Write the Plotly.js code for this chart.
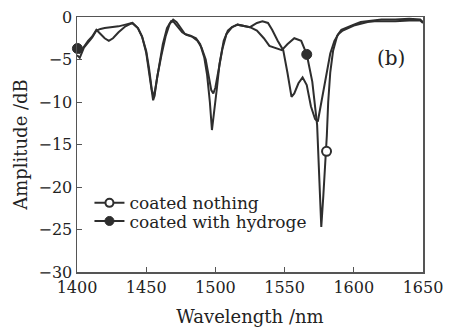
<!DOCTYPE html>
<html>
<head>
<meta charset="utf-8">
<script src="https://cdn.plot.ly/plotly-3.0.1.min.js"></script>
<style>html,body{margin:0;padding:0;background:#fff;}#chart{width:455px;height:330px;}</style>
</head>
<body>
<div id="chart"></div>
<script>
// Curve: coated nothing (deep resonance)
const wlNothing = [1400, 1402, 1405, 1408, 1411, 1414, 1417, 1420, 1425, 1430, 1435, 1440, 1444, 1447, 1450, 1452, 1454, 1455, 1456, 1458, 1461, 1464, 1467, 1469.5, 1472, 1475, 1478, 1482, 1486, 1489, 1492, 1494, 1496, 1497.5, 1499, 1501, 1503, 1506, 1509, 1512, 1516, 1520, 1525, 1530, 1535, 1539, 1544, 1548, 1552, 1557, 1562, 1566, 1568, 1570, 1573.5, 1575, 1576.5, 1578, 1579.5, 1580.5, 1581.5, 1583, 1585, 1588, 1591, 1595, 1600, 1605, 1610, 1615, 1620, 1630, 1640, 1648, 1650];
const ampNothing = [-4.5, -4.8, -3.6, -3.0, -2.4, -1.6, -1.4, -1.3, -1.2, -1.1, -0.9, -0.7, -1.3, -2.3, -4.2, -6.5, -9.2, -9.8, -9.3, -7.0, -4.5, -2.3, -0.8, -0.3, -0.6, -1.3, -2.0, -2.2, -2.5, -3.2, -4.8, -6.8, -10.0, -13.3, -11.5, -8.5, -5.5, -2.8, -1.6, -1.2, -0.9, -1.0, -1.2, -1.6, -2.5, -3.4, -3.7, -3.9, -3.2, -2.5, -2.8, -4.4, -6.0, -7.6, -12.7, -18.0, -24.7, -21.0, -17.0, -14.0, -10.0, -6.5, -4.0, -2.2, -1.5, -1.2, -0.9, -0.6, -0.5, -0.4, -0.3, -0.3, -0.2, -0.3, -0.6];
// Curve: coated with hydrogel (ripple)
const wlHydro = [1400, 1402, 1405, 1408, 1411, 1414, 1417, 1420, 1423, 1426, 1430, 1435, 1440, 1444, 1447, 1450, 1452, 1454, 1455.5, 1457, 1459, 1462, 1465, 1468, 1470, 1473, 1476, 1479, 1483, 1487, 1490, 1493, 1495, 1497, 1498.5, 1500, 1502, 1505, 1508, 1512, 1516, 1520, 1525, 1530, 1534, 1538, 1541, 1545, 1549, 1552, 1555, 1557, 1560, 1563, 1566, 1569, 1572, 1574, 1576, 1578, 1580, 1583, 1586, 1589, 1592, 1596, 1600, 1605, 1610, 1615, 1620, 1630, 1640, 1648, 1650];
const ampHydro = [-3.8, -4.2, -3.5, -2.8, -2.3, -1.5, -2.0, -2.5, -2.8, -2.5, -1.8, -1.1, -0.7, -1.3, -2.3, -4.0, -6.0, -8.5, -9.5, -8.0, -5.8, -3.2, -1.3, -0.5, -0.6, -1.2, -1.8, -2.1, -2.3, -2.8, -3.6, -5.0, -6.8, -8.6, -9.0, -8.3, -6.5, -3.8, -2.0, -1.2, -0.9, -1.0, -1.2, -0.7, -0.5, -0.7, -1.5, -2.8, -3.9, -6.5, -9.4, -9.0, -7.8, -7.1, -8.0, -10.5, -12.0, -12.3, -10.5, -8.5, -6.8, -4.3, -2.8, -2.0, -1.6, -1.3, -1.0, -0.8, -0.6, -0.5, -0.5, -0.5, -0.4, -0.4, -0.7];
// Marker positions
const markNothingX = [1580.3];
const markNothingY = [-15.8];
const markHydroX = [1400.3, 1566];
const markHydroY = [-3.7, -4.4];
const seriesNames = ["coated nothing", "coated with hydroge"];
const xTicks = [1400, 1450, 1500, 1550, 1600, 1650];
const yTicks = [0, -5, -10, -15, -20, -25, -30];

const lineCol = '#2e2e2e';
const fontFam = '"DejaVu Serif", serif';

const data = [
  {x: wlNothing, y: ampNothing, mode: 'lines', line: {color: lineCol, width: 2}, showlegend: false, hoverinfo: 'skip'},
  {x: wlHydro, y: ampHydro, mode: 'lines', line: {color: lineCol, width: 2}, showlegend: false, hoverinfo: 'skip'},
  {x: markNothingX, y: markNothingY, mode: 'markers', marker: {symbol: 'circle', size: 9, color: '#ffffff', line: {color: lineCol, width: 2}}, showlegend: false, cliponaxis: false},
  {x: markHydroX, y: markHydroY, mode: 'markers', marker: {symbol: 'circle', size: 10, color: lineCol, line: {color: lineCol, width: 1}}, showlegend: false, cliponaxis: false},
  {x: [null], y: [null], name: seriesNames[0], legend: 'legend', mode: 'lines+markers', line: {color: lineCol, width: 2}, marker: {symbol: 'circle', size: 8, color: '#ffffff', line: {color: lineCol, width: 2}}},
  {x: [null], y: [null], name: seriesNames[1], legend: 'legend2', mode: 'lines+markers', line: {color: lineCol, width: 2}, marker: {symbol: 'circle', size: 9, color: lineCol, line: {color: lineCol, width: 1}}}
];

const legendBase = {x: 0.036, xanchor: 'left', yanchor: 'top', bgcolor: 'rgba(0,0,0,0)', borderwidth: 0,
                    font: {family: fontFam, size: 17, color: '#222'}};

const layout = {
  width: 455, height: 330,
  margin: {l: 77, r: 32, t: 17, b: 58},
  paper_bgcolor: '#ffffff', plot_bgcolor: '#ffffff',
  font: {family: fontFam, color: '#222', size: 16},
  showlegend: true,
  legend: Object.assign({}, legendBase, {y: 0.34}),
  legend2: Object.assign({}, legendBase, {y: 0.269}),
  xaxis: {range: [1400, 1650], tickvals: xTicks, ticks: 'inside', ticklen: 5, tickcolor: '#555',
          showline: true, linecolor: '#555', linewidth: 1.5, mirror: true, showgrid: false, zeroline: false,
          tickfont: {family: fontFam, size: 16, color: '#222'},
          title: {text: 'Wavelength /nm', font: {family: fontFam, size: 18, color: '#222'}, standoff: 14}},
  yaxis: {range: [-30, 0], tickvals: yTicks, ticks: 'inside', ticklen: 5, tickcolor: '#555',
          showline: true, linecolor: '#555', linewidth: 1.5, mirror: true, showgrid: false, zeroline: false,
          tickfont: {family: fontFam, size: 16, color: '#222'},
          title: {text: 'Amplitude /dB', font: {family: fontFam, size: 18, color: '#222'}, standoff: 6}},
  annotations: [{x: 1627, y: -4.8, xref: 'x', yref: 'y', text: '(b)', showarrow: false,
                 font: {family: fontFam, size: 20, color: '#222'}}]
};

Plotly.newPlot('chart', data, layout, {staticPlot: true, displayModeBar: false});
</script>
</body>
</html>
